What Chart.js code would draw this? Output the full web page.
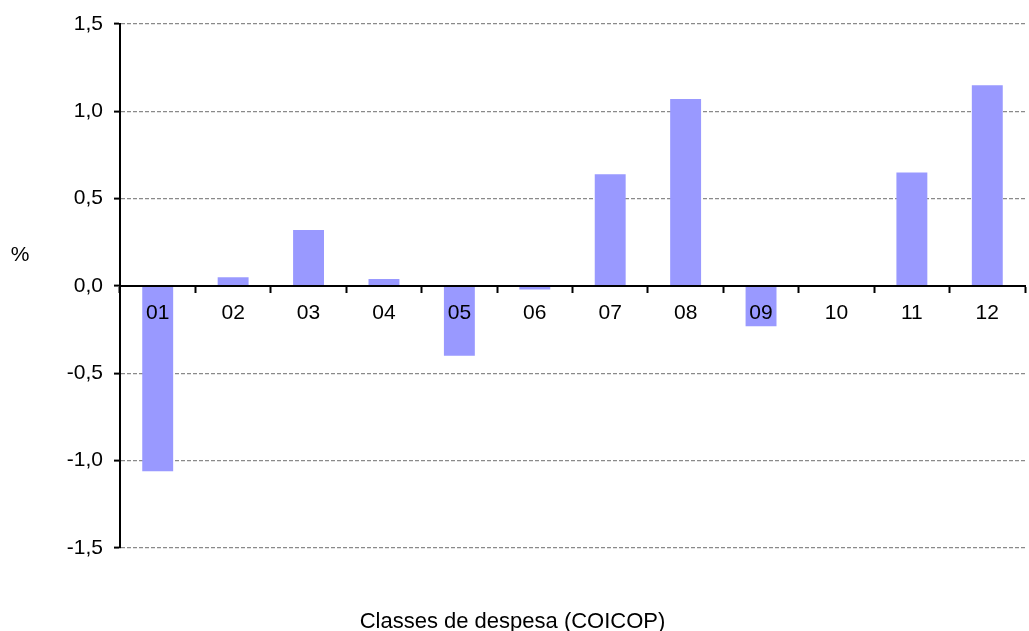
<!DOCTYPE html>
<html>
<head>
<meta charset="utf-8">
<script src="https://cdn.jsdelivr.net/npm/chart.js@4.4.1/dist/chart.umd.min.js"></script>
<style>
  html, body { margin: 0; padding: 0; background: #fff; }
  #wrap { position: relative; width: 1029px; height: 631px; }
</style>
</head>
<body>
<div id="wrap"><canvas id="myChart"></canvas></div>
<script>
// categories (COICOP classes) and their values, in %
const labels = ['01', '02', '03', '04', '05', '06', '07', '08', '09', '10', '11', '12'];
const values = [-1.06, 0.05, 0.32, 0.04, -0.40, -0.02, 0.64, 1.07, -0.23, 0.0, 0.65, 1.15];
const yTicks = [-1.5, -1.0, -0.5, 0.0, 0.5, 1.0, 1.5];

const fontFamily = '"Liberation Sans", Arial, sans-serif';

// the "%" label sits horizontally left of the axis
const percentLabel = {
  id: 'percentLabel',
  afterDraw(chart) {
    const ctx = chart.ctx;
    ctx.save();
    ctx.font = '21px ' + fontFamily;
    ctx.fillStyle = '#000';
    ctx.textAlign = 'center';
    ctx.textBaseline = 'middle';
    ctx.fillText('%', 20, 255);
    ctx.restore();
  }
};

var ctx = document.getElementById('myChart').getContext('2d');
var myChart = new Chart(ctx, {
  type: 'bar',
  data: {
    labels: labels,
    datasets: [{
      data: values,
      backgroundColor: '#9999ff',
      borderWidth: 0,
      barPercentage: 0.41,
      categoryPercentage: 1.0
    }]
  },
  options: {
    responsive: true,
    maintainAspectRatio: false,
    animation: false,
    layout: { padding: { left: 0, right: 4, top: 24, bottom: 0 } },
    plugins: {
      legend: { display: false },
      tooltip: { enabled: false },
      title: {
        display: true,
        position: 'bottom',
        text: 'Classes de despesa (COICOP)',
        color: '#000',
        font: { family: fontFamily, size: 22, weight: 'normal', lineHeight: 1 },
        padding: { top: 63, bottom: -2 }
      }
    },
    scales: {
      x: {
        position: { y: 0 },
        grid: {
          offset: true,
          drawOnChartArea: false,
          drawTicks: true,
          tickLength: 6,
          tickColor: '#000',
          tickWidth: 2
        },
        border: { color: '#000', width: 2, z: 1 },
        ticks: {
          color: '#000',
          padding: 9,
          maxRotation: 0,
          autoSkip: false,
          z: 1,
          font: { family: fontFamily, size: 21 }
        }
      },
      y: {
        min: -1.5,
        max: 1.5,
        afterFit: s => { s.width = 120; },
        afterBuildTicks: s => { s.ticks = yTicks.map(v => ({ value: v })); },
        grid: {
          color: '#8a8a8a',
          lineWidth: 1.2,
          tickLength: 6,
          tickColor: '#000',
          tickWidth: 2,
          tickBorderDash: []
        },
        border: { color: '#000', width: 2, dash: [4, 2] },
        ticks: {
          color: '#000',
          padding: 11,
          font: { family: fontFamily, size: 21 },
          callback: v => v.toFixed(1).replace('.', ',')
        }
      }
    }
  },
  plugins: [percentLabel]
});
</script>
</body>
</html>
